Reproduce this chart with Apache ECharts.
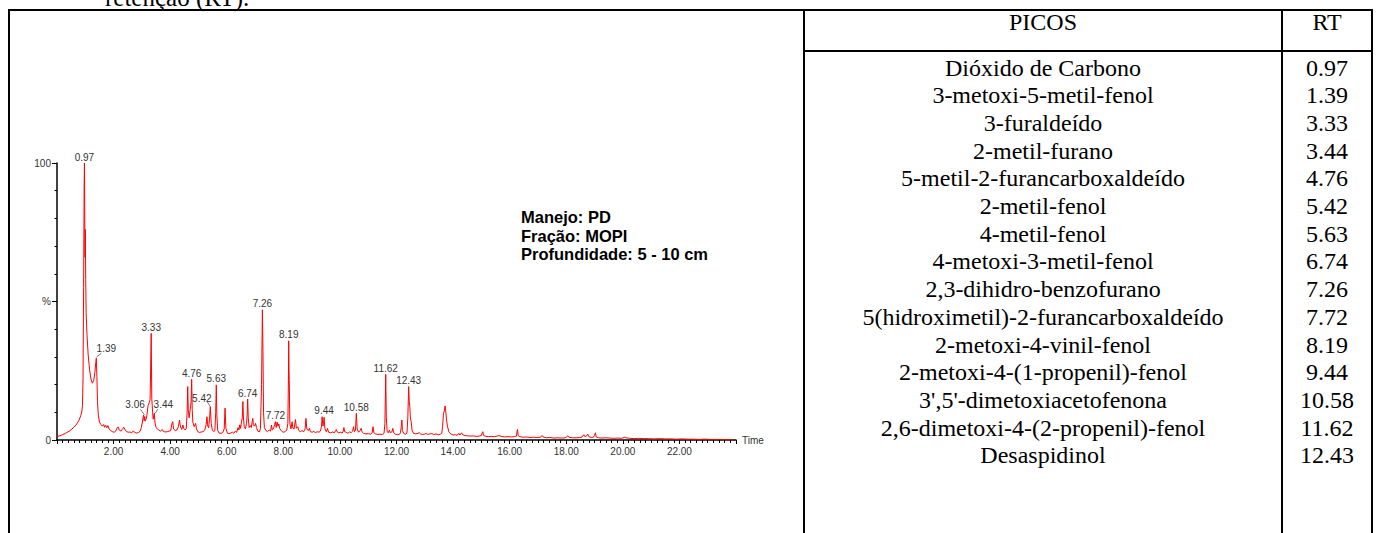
<!DOCTYPE html>
<html>
<head>
<meta charset="utf-8">
<script src="https://cdn.jsdelivr.net/npm/echarts@6/dist/echarts.min.js"></script>
<style>
html,body{margin:0;padding:0;background:#fff;}
#chart{width:1376px;height:533px;}
</style>
</head>
<body>
<div id="chart"></div>
<script>
// ---- Chromatogram (time in min, relative intensity %) ----
const rtTimes = [0.00,0.15,0.30,0.45,0.60,0.70,0.78,0.84,0.88,0.90,0.92,0.94,0.96,0.97,0.98,0.99,1.00,1.015,1.03,1.06,1.10,1.15,1.20,1.25,1.30,1.34,1.37,1.39,1.41,1.43,1.46,1.50,1.55,1.60,1.65,1.68,1.72,1.76,1.80,1.84,1.90,1.96,2.02,2.08,2.13,2.16,2.20,2.26,2.31,2.36,2.40,2.46,2.52,2.58,2.64,2.70,2.75,2.82,2.88,2.94,2.98,3.02,3.04,3.06,3.08,3.10,3.12,3.15,3.18,3.22,3.26,3.29,3.31,3.33,3.35,3.38,3.40,3.42,3.44,3.46,3.50,3.55,3.60,3.66,3.72,3.76,3.82,3.90,3.96,4.02,4.06,4.09,4.12,4.18,4.24,4.29,4.33,4.36,4.41,4.45,4.48,4.53,4.57,4.60,4.62,4.64,4.67,4.70,4.72,4.74,4.76,4.78,4.80,4.85,4.90,4.93,4.98,5.04,5.10,5.16,5.22,5.27,5.30,5.33,5.36,5.39,5.42,5.45,5.49,5.54,5.58,5.61,5.63,5.65,5.68,5.73,5.80,5.86,5.91,5.94,5.97,6.02,6.08,6.14,6.20,6.25,6.30,6.35,6.40,6.43,6.46,6.49,6.52,6.55,6.57,6.59,6.62,6.66,6.70,6.72,6.74,6.76,6.79,6.83,6.87,6.90,6.92,6.94,6.98,7.02,7.05,7.10,7.15,7.19,7.21,7.23,7.25,7.26,7.27,7.28,7.30,7.33,7.38,7.44,7.50,7.55,7.58,7.61,7.65,7.69,7.72,7.75,7.78,7.81,7.84,7.87,7.91,7.96,8.02,8.08,8.12,8.16,8.18,8.19,8.20,8.21,8.23,8.27,8.31,8.34,8.38,8.43,8.46,8.51,8.55,8.60,8.66,8.72,8.77,8.80,8.83,8.88,8.92,8.96,9.02,9.08,9.13,9.20,9.26,9.31,9.35,9.37,9.40,9.42,9.44,9.47,9.52,9.56,9.60,9.67,9.74,9.80,9.85,9.87,9.90,9.96,10.02,10.08,10.12,10.14,10.17,10.22,10.28,10.34,10.40,10.45,10.48,10.51,10.55,10.58,10.61,10.66,10.71,10.75,10.78,10.84,10.92,11.00,11.08,11.14,11.17,11.20,11.26,11.34,11.42,11.50,11.56,11.59,11.62,11.64,11.67,11.71,11.75,11.78,11.84,11.87,11.90,11.96,12.04,12.10,12.14,12.17,12.19,12.21,12.26,12.32,12.37,12.40,12.43,12.45,12.47,12.49,12.52,12.55,12.60,12.68,12.76,12.80,12.85,12.92,13.00,13.05,13.10,13.18,13.25,13.32,13.40,13.48,13.55,13.60,13.63,13.66,13.69,13.72,13.74,13.77,13.80,13.85,13.92,14.00,14.08,14.15,14.20,14.24,14.30,14.34,14.42,14.52,14.62,14.72,14.82,14.92,15.00,15.03,15.05,15.08,15.16,15.26,15.36,15.46,15.56,15.62,15.70,15.82,15.94,16.06,16.16,16.24,16.26,16.28,16.30,16.36,16.48,16.60,16.72,16.84,16.96,17.08,17.15,17.18,17.30,17.42,17.56,17.70,17.84,17.96,18.02,18.06,18.10,18.22,18.36,18.48,18.56,18.62,18.66,18.72,18.76,18.80,18.88,18.96,19.00,19.03,19.06,19.14,19.26,19.40,19.54,19.68,19.82,19.96,20.06,20.12,20.24,20.40,20.56,20.72,20.90,21.10,21.30,21.50,21.70,21.90,22.10,22.30,22.50,22.70,22.90,23.10,23.30,23.50,23.70,23.90];
const intensity = [1.2,1.7,2.4,3.3,4.6,5.8,7.2,8.8,10.5,12.5,22,55,92,100,84,66,76,58,46,38,31,25.5,22,20.5,21.5,24.5,28,29.5,23,14,9,6.5,5.6,5.0,5.6,4.6,5.3,4.4,5.2,4.0,3.4,3.0,2.8,3.3,4.5,4.7,3.6,3.2,3.9,4.6,3.8,3.0,2.8,2.9,2.6,3.3,2.7,2.5,2.7,3.2,4.5,6.5,8.0,9.0,7.0,8.5,6.8,7.5,9.0,12.5,13.5,14.5,26,38.5,15,10,7.5,8.8,9.7,6.5,4.5,4.0,3.6,3.2,3.8,3.1,2.9,3.0,3.2,3.4,5.8,6.6,4.0,3.4,3.6,4.8,7.2,5.0,3.8,5.4,4.2,3.6,4.2,10.0,19.3,11,8.0,10.5,12.0,14,21.9,11,6.5,4.8,6.0,4.0,3.0,2.7,2.9,3.0,3.5,5.5,8.4,5.0,4.4,7.5,12.0,6.0,3.6,3.0,3.4,10.0,19.9,9.0,3.5,2.5,2.4,2.7,4.0,11.5,4.2,2.5,2.3,2.5,2.8,2.4,3.2,2.8,4.5,3.6,5.5,4.2,6.5,8.0,13.9,8.0,4.8,4.0,6.0,9.0,14.8,8.0,4.5,5.2,4.5,6.8,7.8,5.5,5.0,6.0,4.5,3.2,2.9,4.0,12,20,38,47,40,32,10,4.5,3.5,3.0,3.6,3.2,5.4,3.6,4.0,5.5,6.6,4.5,6.5,5.0,5.8,4.2,3.6,3.0,2.8,3.2,3.5,6,22,35.8,26,21.5,6,4.0,6.6,4.2,4.0,7.4,4.2,4.8,3.4,3.0,3.4,3.0,4.0,7.8,4.0,3.4,4.2,3.0,2.8,3.2,2.6,3.0,2.8,3.2,5.0,8.4,5.0,6.0,8.2,4.0,3.0,4.2,2.8,2.6,2.9,2.6,3.4,3.8,3.0,2.6,2.8,2.5,3.2,4.5,3.0,2.8,2.4,2.9,2.7,3.2,4.8,3.0,3.6,9.6,4.0,2.8,3.4,4.2,3.0,2.4,2.2,2.3,2.1,2.6,4.8,2.6,2.2,2.0,2.1,2.0,2.4,6,23.7,8,3.0,2.6,3.6,2.6,3.0,4.2,2.6,2.1,1.9,2.0,2.6,5.0,7.2,3.4,2.3,2.1,2.5,8,19.3,14,12.0,8,6.5,3.6,2.4,2.2,2.4,2.7,2.2,2.0,2.1,2.4,2.0,2.2,2.3,2.0,2.2,1.9,2.1,2.4,5.0,9.6,10.5,12.3,10.5,7.2,5.0,3.0,2.2,1.8,1.9,1.7,2.4,1.8,2.6,1.9,1.6,1.5,1.4,1.5,1.3,1.4,1.6,2.6,3.0,1.6,1.3,1.2,1.3,1.2,1.4,1.6,1.3,1.1,1.2,1.1,1.2,1.4,3.0,3.8,1.6,1.2,1.0,1.1,0.9,1.0,0.9,1.0,1.6,1.1,0.8,0.9,0.7,0.8,0.7,0.8,1.2,1.5,1.0,0.8,0.8,0.9,1.1,1.9,1.2,1.5,2.1,1.2,0.9,1.0,1.6,2.6,1.1,0.8,0.7,0.8,0.7,0.6,0.7,0.6,1.0,0.8,0.6,0.5,0.6,0.5,0.5,0.4,0.5,0.4,0.4,0.3,0.4,0.3,0.3,0.2,0.3,0.2,0.2,0.2,0.1,0.1];

// ---- Labelled peaks ----
const peakRT = [0.97,1.39,3.06,3.33,3.44,4.76,5.42,5.63,6.74,7.26,7.72,8.19,9.44,10.58,11.62,12.43];
const peakHeight = [100,29.5,9.0,38.5,9.7,21.9,12.0,19.9,14.8,47,6.6,35.8,8.4,9.6,23.7,19.3];

// ---- Table ----
const compoundNames = ['Dióxido de Carbono','3-metoxi-5-metil-fenol','3-furaldeído','2-metil-furano','5-metil-2-furancarboxaldeído','2-metil-fenol','4-metil-fenol','4-metoxi-3-metil-fenol','2,3-dihidro-benzofurano','5(hidroximetil)-2-furancarboxaldeído','2-metoxi-4-vinil-fenol','2-metoxi-4-(1-propenil)-fenol',"3',5'-dimetoxiacetofenona",'2,6-dimetoxi-4-(2-propenil)-fenol','Desaspidinol'];
const compoundRT = ['0.97','1.39','3.33','3.44','4.76','5.42','5.63','6.74','7.26','7.72','8.19','9.44','10.58','11.62','12.43'];
const tableHeaders = ['PICOS','RT'];
const sampleInfo = ['Manejo: PD','Fração: MOPI','Profundidade: 5 - 10 cm'];
const captionTail = 'retenção (RT).';

const chart = echarts.init(document.getElementById('chart'), null, {renderer:'svg'});

const seriesData = rtTimes.map((t,i)=>[t, intensity[i]]);
const peakData = peakRT.map((t,i)=>[t, peakHeight[i]]);

// label placement relative to peak tip (pixels): [dx, dy, leader line or null]
const labelPlace = {
  1: [10,-10,[[0,-1],[5,-5]]],
  2: [-8.5,-10.5,[[1,0],[-3,-5.5]]],
  4: [9,-9,[[1,0],[3.5,-4]]],
  6: [-8.5,-8.5,[[0,0],[-3,-5]]]
};
const axisFont = 'Liberation Sans, Arial, sans-serif';
const serif = 'Liberation Serif, Times New Roman, serif';
const tableFont = '24px ' + serif;

const graphics = [];
const bw = 2;
function hline(x1,x2,y){graphics.push({type:'line',silent:true,shape:{x1:x1,y1:y,x2:x2,y2:y},style:{stroke:'#000',lineWidth:bw}});}
function vline(x,y1,y2){graphics.push({type:'line',silent:true,shape:{x1:x,y1:y1,x2:x,y2:y2},style:{stroke:'#000',lineWidth:bw}});}
hline(8,1373,10);
hline(804,1373,51);
vline(9,9,534);
vline(804,9,534);
vline(1282,9,534);
vline(1372,9,534);

graphics.push({type:'text',x:105,y:-3,style:{text:captionTail,font:'25px '+serif,fill:'#000',verticalAlign:'middle',align:'left'}});
graphics.push({type:'text',x:1043,y:22,style:{text:tableHeaders[0],font:tableFont,fill:'#000',align:'center',verticalAlign:'middle'}});
graphics.push({type:'text',x:1327,y:22,style:{text:tableHeaders[1],font:tableFont,fill:'#000',align:'center',verticalAlign:'middle'}});
compoundNames.forEach((n,i)=>{
  const y = 67.5 + i*27.71;
  graphics.push({type:'text',x:1043,y:y,style:{text:n,font:tableFont,fill:'#000',align:'center',verticalAlign:'middle'}});
  graphics.push({type:'text',x:1327,y:y,style:{text:compoundRT[i],font:tableFont,fill:'#000',align:'center',verticalAlign:'middle'}});
});
sampleInfo.forEach((s,i)=>{
  graphics.push({type:'text',x:521,y:217+i*18.5,style:{text:s,font:'bold 16.5px '+axisFont,fill:'#000',align:'left',verticalAlign:'middle'}});
});

const option = {
  animation:false,
  backgroundColor:'#fff',
  grid:{left:57,top:163,width:679,height:277,containLabel:false},
  xAxis:{
    type:'value',min:0,max:24,interval:2,
    name:'Time',nameLocation:'end',nameGap:6,
    nameTextStyle:{color:'#333',fontSize:10,fontFamily:axisFont,verticalAlign:'middle'},
    axisLine:{show:true,onZero:false,lineStyle:{color:'#000',width:1.5}},
    axisTick:{show:true,length:4,lineStyle:{color:'#000',width:1}},
    minorTick:{show:true,splitNumber:10,length:3,lineStyle:{color:'#000',width:1}},
    splitLine:{show:false},minorSplitLine:{show:false},
    axisLabel:{show:true,margin:6,color:'#333',fontSize:10,fontFamily:axisFont,
      formatter:function(v){return (v<=0||v>=24)?'':v.toFixed(2);}}
  },
  yAxis:{
    type:'value',min:0,max:100,interval:50,
    axisLine:{show:true,onZero:false,lineStyle:{color:'#000',width:1.5}},
    axisTick:{show:true,length:5,lineStyle:{color:'#000',width:1}},
    minorTick:{show:true,splitNumber:5,length:2.5,lineStyle:{color:'#000',width:1}},
    splitLine:{show:false},minorSplitLine:{show:false},
    axisLabel:{show:true,margin:6,color:'#333',fontSize:10,fontFamily:axisFont,
      formatter:function(v){return v===0?'0':(v===50?'%':(v===100?'100':''));}}
  },
  series:[
    {type:'line',data:seriesData,showSymbol:false,symbol:'none',smooth:false,
      lineStyle:{color:'#ff0000',width:1},z:3,silent:true},
    {type:'custom',data:peakData,z:4,silent:true,clip:false,
      renderItem:function(params,api){
        const p = api.coord([api.value(0),api.value(1)]);
        const pl = labelPlace[params.dataIndex];
        const dx = pl?pl[0]:0, dy = pl?pl[1]:-6;
        const children = [{type:'text',x:p[0]+dx,y:p[1]+dy,
          style:{text:api.value(0).toFixed(2),font:'10px '+axisFont,fill:'#333',align:'center',verticalAlign:'middle'}}];
        if(pl && pl[2]){
          children.push({type:'line',shape:{x1:p[0]+pl[2][0][0],y1:p[1]+pl[2][0][1],x2:p[0]+pl[2][1][0],y2:p[1]+pl[2][1][1]},
            style:{stroke:'#555',lineWidth:0.8}});
        }
        return {type:'group',children:children};
      }}
  ],
  graphic:graphics
};
chart.setOption(option);
</script>
</body>
</html>
